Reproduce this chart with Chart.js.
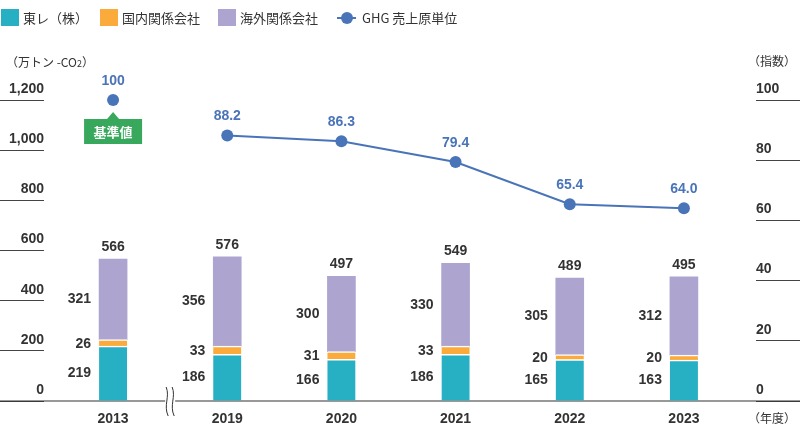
<!DOCTYPE html>
<html>
<head>
<meta charset="utf-8">
<script src="https://cdn.jsdelivr.net/npm/chart.js@4/dist/chart.umd.min.js"></script>
<style>
  html, body { margin:0; padding:0; background:#fff; }
  #wrap { position:relative; width:800px; height:433px; overflow:hidden;
          font-family:'Liberation Sans','Noto Sans CJK JP',Arial,sans-serif; color:#333; }
  #legend { position:absolute; left:0; top:8px; height:18px; display:flex; align-items:center; font-size:13px; font-family:'Noto Sans CJK JP','Liberation Sans',sans-serif; }
  .li { display:flex; align-items:center; margin-right:0; position:absolute; top:0; white-space:nowrap; }
  .sw { width:18px; height:17px; margin-right:4px; }
  .ln { width:19px; height:17px; position:relative; margin-right:6px; }
  .ln::before { content:''; position:absolute; left:0; right:0; top:8px; height:2px; background:#4a74b8; }
  .ln::after { content:''; position:absolute; left:3.5px; top:3px; width:12px; height:12px; border-radius:50%; background:#4a74b8; }
  .unit { position:absolute; font-size:12px; font-family:'Noto Sans CJK JP','Liberation Sans',sans-serif; color:#333; white-space:nowrap; }
  canvas { position:absolute; left:0; top:0; }
</style>
</head>
<body>
<div id="wrap">
  <canvas id="c" width="800" height="433"></canvas>
  <div id="legend"></div>
  <div class="unit" style="left:6px; top:53px;">（万トン -CO<span style="font-size:9px">2</span>）</div>
  <div class="unit" style="left:748px; top:52px;">（指数）</div>
  <div class="unit" style="left:748px; top:409px;">（年度）</div>
</div>
<script>
const categories = ['2013', '2019', '2020', '2021', '2022', '2023'];
const torayValues = [219, 186, 166, 186, 165, 163];
const domesticValues = [26, 33, 31, 33, 20, 20];
const overseasValues = [321, 356, 300, 330, 305, 312];
const totalLabels = [566, 576, 497, 549, 489, 495];
const ghgIndex = [100, 88.2, 86.3, 79.4, 65.4, 64.0];
const leftTicks = [0, 200, 400, 600, 800, 1000, 1200];
const rightTicks = [0, 20, 40, 60, 80, 100];
const seriesNames = ['東レ（株）', '国内関係会社', '海外関係会社', 'GHG 売上原単位'];
const baseLabel = '基準値';

const TEAL = '#27afc4', ORANGE = '#fbab3c', PURPLE = '#ada5d0', BLUE = '#4a74b8', GREEN = '#37a85c';
const NUMFONT = "bold 14px 'Liberation Sans', Arial, sans-serif";

// HTML legend
(function(){
  const lg = document.getElementById('legend');
  const cols = [TEAL, ORANGE, PURPLE];
  const lefts = [1, 100, 218, 337];
  seriesNames.forEach((n, i) => {
    const d = document.createElement('div');
    d.className = 'li';
    d.style.left = lefts[i] + 'px';
    const s = document.createElement('span');
    if (i < 3) { s.className = 'sw'; s.style.background = cols[i]; }
    else { s.className = 'ln'; }
    d.appendChild(s);
    const t = document.createElement('span');
    t.textContent = n;
    d.appendChild(t);
    lg.appendChild(d);
  });
})();

const labelPlugin = {
  id: 'labels',
  beforeDatasetsDraw(chart) {
    // full-width baseline
    const ctx = chart.ctx;
    const y0 = chart.scales.y.getPixelForValue(0);
    ctx.save();
    ctx.strokeStyle = '#333';
    ctx.lineWidth = 1.2;
    ctx.beginPath();
    ctx.moveTo(0, y0); ctx.lineTo(chart.width, y0);
    ctx.stroke();
    ctx.restore();
  },
  afterDatasetsDraw(chart) {
    const ctx = chart.ctx;
    const xs = chart.scales.x;
    const y0 = chart.scales.y.getPixelForValue(0);
    ctx.save();
    // axis break mark between first and second category
    const bx = (xs.getPixelForValue(0) + xs.getPixelForValue(1)) / 2;
    ctx.fillStyle = '#fff';
    ctx.fillRect(bx - 5, y0 - 3, 10, 6);
    ctx.strokeStyle = '#333';
    ctx.lineWidth = 1;
    [-3, 3].forEach(dx => {
      ctx.beginPath();
      ctx.moveTo(bx + dx - 1, y0 - 14);
      ctx.bezierCurveTo(bx + dx + 3, y0 - 4, bx + dx - 4, y0 + 4, bx + dx + 1, y0 + 15);
      ctx.stroke();
    });

    ctx.font = NUMFONT;
    ctx.textBaseline = 'middle';
    const metas = [0, 1, 2].map(i => chart.getDatasetMeta(i));
    const vals = [torayValues, domesticValues, overseasValues];
    categories.forEach((c, i) => {
      ctx.fillStyle = '#333';
      ctx.textAlign = 'right';
      metas.forEach((m, k) => {
        const el = m.data[i];
        const yc = (el.y + el.base) / 2;
        ctx.fillText(String(vals[k][i]), el.x - el.width / 2 - 8, yc + (k === 1 ? 1 : 0));
      });
      const top = metas[2].data[i];
      ctx.textAlign = 'center';
      ctx.fillText(String(totalLabels[i]), top.x, top.y - 12);
    });
    // line labels
    const lm = chart.getDatasetMeta(3);
    ctx.fillStyle = BLUE;
    ctx.textAlign = 'center';
    lm.data.forEach((p, i) => {
      ctx.fillText(ghgIndex[i].toFixed(i === 0 ? 0 : 1), p.x, p.y - 19);
    });
    // base value callout
    const p0 = lm.data[0];
    const bw = 58, bh = 25, btop = p0.y + 19;
    ctx.fillStyle = GREEN;
    ctx.beginPath();
    ctx.moveTo(p0.x - 6, btop);
    ctx.lineTo(p0.x, btop - 7);
    ctx.lineTo(p0.x + 6, btop);
    ctx.closePath();
    ctx.fill();
    ctx.fillRect(p0.x - bw / 2, btop, bw, bh);
    ctx.fillStyle = '#fff';
    ctx.font = "bold 13px 'Noto Sans CJK JP', sans-serif";
    ctx.fillText(baseLabel, p0.x, btop + bh / 2 + 1);
    ctx.restore();
  }
};

const gridTick = { display: true, drawOnChartArea: false, drawTicks: true, tickLength: 44, color: '#444', lineWidth: 1 };

new Chart(document.getElementById('c'), {
  type: 'bar',
  data: {
    labels: categories,
    datasets: [
      { label: seriesNames[0], data: torayValues, backgroundColor: TEAL, borderColor: '#fff', borderWidth: { top: 1.5, left: 0, right: 0, bottom: 0 }, yAxisID: 'y', stack: 's', order: 2, barThickness: 28 },
      { label: seriesNames[1], data: domesticValues, backgroundColor: ORANGE, borderColor: '#fff', borderWidth: { top: 1.5, left: 0, right: 0, bottom: 0 }, yAxisID: 'y', stack: 's', order: 2, barThickness: 28 },
      { label: seriesNames[2], data: overseasValues, backgroundColor: PURPLE, borderWidth: 0, yAxisID: 'y', stack: 's', order: 2, barThickness: 28 },
      { type: 'line', label: seriesNames[3], data: ghgIndex, yAxisID: 'y1', borderColor: BLUE, backgroundColor: BLUE,
        borderWidth: 2, pointRadius: 6, pointBackgroundColor: BLUE, pointBorderWidth: 0, tension: 0, order: 1, clip: false,
        segment: { borderColor: ctx => ctx.p0DataIndex === 0 ? 'rgba(0,0,0,0)' : BLUE } }
    ]
  },
  options: {
    responsive: false,
    animation: false,
    devicePixelRatio: 1,
    layout: { padding: { top: 100, bottom: 0, left: 0, right: 0 } },
    plugins: { legend: { display: false }, tooltip: { enabled: false } },
    scales: {
      x: {
        type: 'category', offset: true, stacked: true,
        grid: { display: false, drawTicks: false },
        border: { display: false },
        ticks: { font: { family: "'Liberation Sans', Arial, sans-serif", size: 14, weight: 'bold' }, color: '#333', padding: 10 },
        afterFit: s => { s.height = 32; }
      },
      y: {
        type: 'linear', position: 'left', weight: 2, stacked: true, min: 0, max: 1200,
        afterBuildTicks: s => { s.ticks = leftTicks.map(v => ({ value: v })); },
        grid: gridTick,
        border: { display: false },
        ticks: { padding: -44, labelOffset: -11, color: '#333', font: { family: "'Liberation Sans', Arial, sans-serif", size: 14, weight: 'bold' },
                 callback: v => v.toLocaleString('en-US') },
        afterFit: s => { s.width = 44; }
      },
      spL: {
        type: 'linear', position: 'left', weight: 1, display: true,
        grid: { display: false }, border: { display: false }, ticks: { display: false },
        afterFit: s => { s.width = 12; }
      },
      y1: {
        type: 'linear', position: 'right', weight: 2, min: 0, max: 100,
        afterBuildTicks: s => { s.ticks = rightTicks.map(v => ({ value: v })); },
        grid: gridTick,
        border: { display: false },
        ticks: { padding: -44, labelOffset: -11, color: '#333', font: { family: "'Liberation Sans', Arial, sans-serif", size: 14, weight: 'bold' } },
        afterFit: s => { s.width = 44; }
      },
      spR: {
        type: 'linear', position: 'right', weight: 1, display: true,
        grid: { display: false }, border: { display: false }, ticks: { display: false },
        afterFit: s => { s.width = 15; }
      }
    }
  },
  plugins: [labelPlugin]
});
</script>
</body>
</html>
